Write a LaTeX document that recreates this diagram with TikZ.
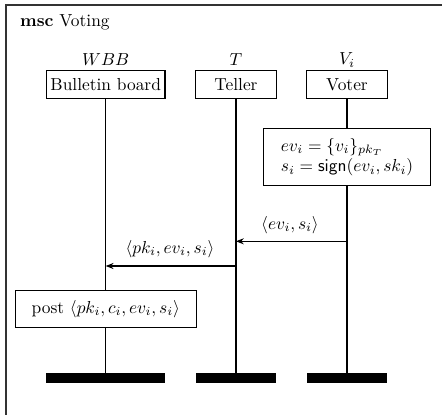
\documentclass[tikz,border=0pt]{standalone}
\usetikzlibrary{arrows.meta}
\begin{document}
\begin{tikzpicture}[x=0.575pt,y=-0.575pt,
  inst/.style={draw,line width=0.6pt,fill=white,minimum height=16.1pt,inner sep=0pt},
  endbar/.style={fill=black,draw=none,minimum height=5.6pt,inner sep=0pt},
  life/.style={line width=0.8pt},
  msg/.style={line width=0.6pt,-{Stealth[length=4.5pt,width=3.5pt]}},
  actbox/.style={draw,line width=0.6pt,fill=white,inner sep=0pt}]
\useasboundingbox (0,0) rectangle (442,415);
\clip (0,0) rectangle (442,415);
\draw[line width=0.9pt,draw=black!80] (6,5) rectangle (470,440);
\node[anchor=west] (title) at (14,22) {\textbf{msc} Voting};
% instance heads
\node[inst,minimum width=68.2pt] (bb) at (105.7,84.3) {Bulletin board};
\node[inst,minimum width=46.2pt] (tel) at (236,84.3) {Teller};
\node[inst,minimum width=46.2pt] (vot) at (347,84.3) {Voter};
\node (nbb) at (105.7,60) {$WBB$};
\node (ntel) at (236,60) {$T$};
\node (nvot) at (347,60) {$V_i$};
% end bars
\node[endbar,minimum width=68.4pt] (ebb) at (105.7,378.2) {};
\node[endbar,minimum width=46.3pt] (etel) at (236,378.2) {};
\node[endbar,minimum width=46.3pt] (evot) at (347,378.2) {};
% lifelines
\draw[life] (bb.south) -- (ebb.north);
\draw[life] (tel.south) -- (etel.north);
\draw[life] (vot.south) -- (evot.north);
% actions
\node[actbox,minimum width=95.5pt,minimum height=32.8pt,align=left] (act) at (347,157.2)
  {$ev_i=\{v_i\}_{pk_T}$\\ $s_i=\mathsf{sign}(ev_i,sk_i)$};
\node[actbox,minimum width=104pt,minimum height=21pt] (post) at (105.8,309)
  {post $\langle pk_i,c_i,ev_i,s_i\rangle$};
% messages
\coordinate (m1s) at (347,241.3);
\coordinate (m1e) at (236,241.3);
\coordinate (m2s) at (236,266);
\coordinate (m2e) at (105.7,266);
\draw[msg] (m1s) -- (m1e);
\draw[msg] (m2s) -- (m2e);
\node (l1) at (290,225) {$\langle ev_i,s_i\rangle$};
\node (l2) at (170,249) {$\langle pk_i,ev_i,s_i\rangle$};
\end{tikzpicture}
\end{document}
